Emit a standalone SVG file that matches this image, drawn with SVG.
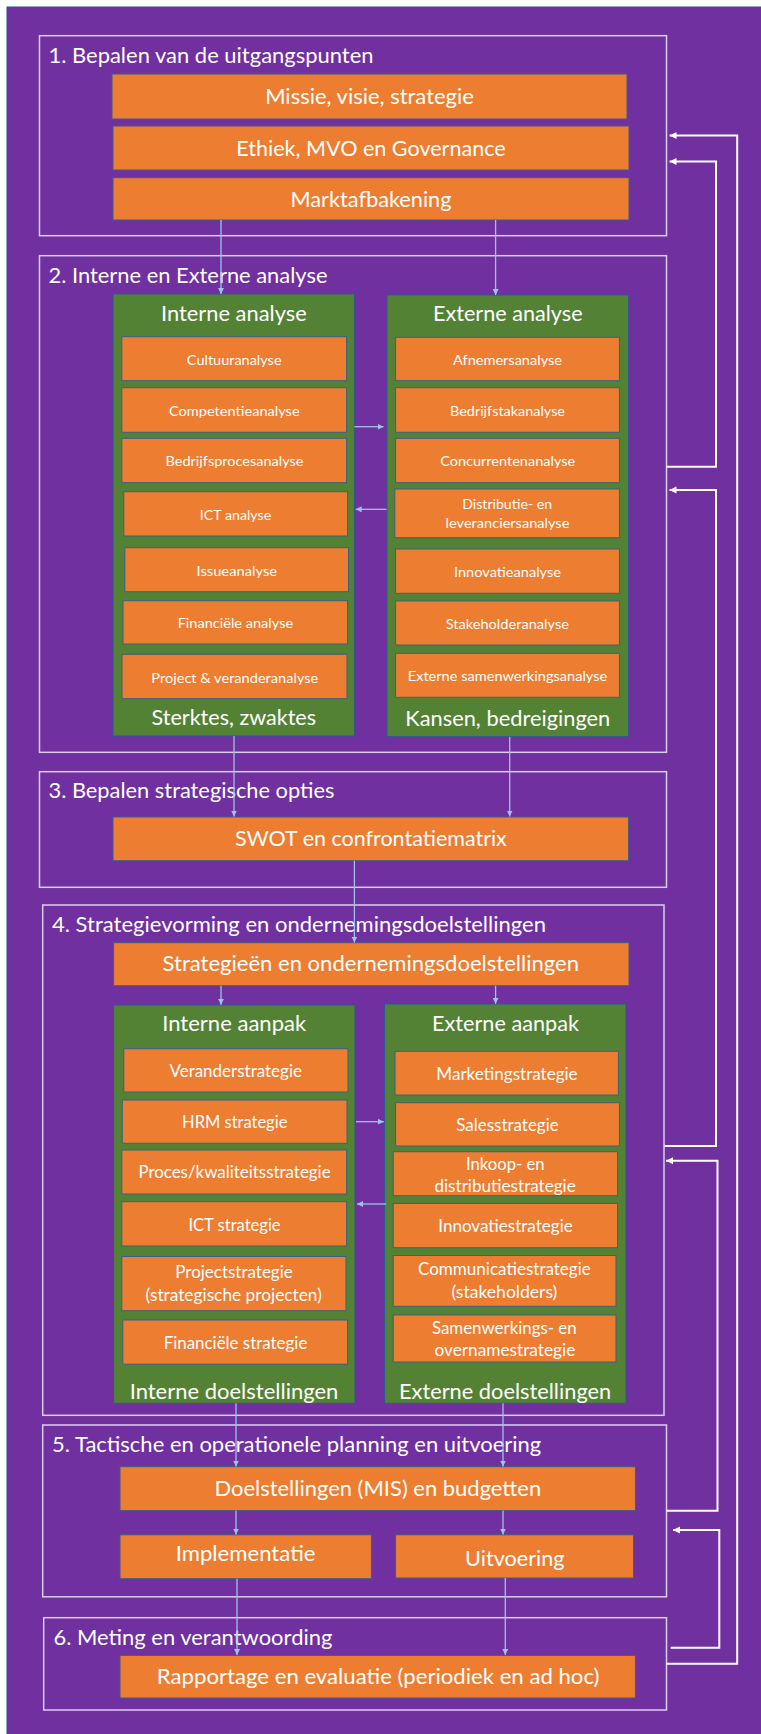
<svg xmlns="http://www.w3.org/2000/svg" width="761" height="1734" viewBox="0 0 761 1734">
<defs>
<style>
.sec{fill:none;stroke:#DACDEB;stroke-width:1.5}
.o{fill:#ED7D31;stroke:#3B5F86;stroke-width:1}
.g{fill:#548235;stroke:#2F5597;stroke-width:1}
text{font-family:Lato,"Open Sans","Liberation Sans",sans-serif;fill:#FFFFFF}
.b{font-size:20.5px;text-anchor:middle}
.h{font-size:20.5px;text-anchor:start}
.s{font-size:14px;text-anchor:middle}
.m{font-size:16.3px;text-anchor:middle}
.c{fill:none;stroke:#9DC3E6;stroke-width:1.3;marker-end:url(#ac)}
.f{fill:none;stroke:#FFFFFF;stroke-width:2;marker-end:url(#af)}
</style>
<marker id="ac" markerUnits="userSpaceOnUse" markerWidth="7" markerHeight="6" refX="6" refY="3" orient="auto"><path d="M0,0 L6,3 L0,6 z" fill="#9DC3E6"/></marker>
<marker id="af" markerUnits="userSpaceOnUse" markerWidth="8" markerHeight="8" refX="7" refY="3.5" orient="auto"><path d="M0,0 L7,3.5 L0,7 z" fill="#FFFFFF"/></marker>
</defs>
<rect x="7" y="7" width="760" height="1740" fill="#7030A0" stroke="#2F528F" stroke-width="1"/>

<g id="sec1"><rect class="sec" x="39.5" y="35.7" width="627" height="200"/><text class="h" x="48.5" y="62.7" textLength="325" lengthAdjust="spacingAndGlyphs">1. Bepalen van de uitgangspunten</text></g>
<g id="missie"><rect class="o" x="112" y="74" width="515" height="45"/><text class="b" x="369.5" y="104" textLength="208.7" lengthAdjust="spacingAndGlyphs">Missie, visie, strategie</text></g>
<g id="ethiek"><rect class="o" x="113" y="126" width="516" height="44"/><text class="b" x="371" y="155.7" textLength="269.4" lengthAdjust="spacingAndGlyphs">Ethiek, MVO en Governance</text></g>
<g id="markt"><rect class="o" x="113" y="177.7" width="516" height="42.3"/><text class="b" x="371" y="206.7" textLength="161" lengthAdjust="spacingAndGlyphs">Marktafbakening</text></g>

<g id="sec2"><rect class="sec" x="39.5" y="255.7" width="627" height="496.6"/><text class="h" x="48.5" y="282.7" textLength="279" lengthAdjust="spacingAndGlyphs">2. Interne en Externe analyse</text></g>
<g id="interne-analyse"><rect class="g" x="113" y="294" width="241.4" height="442"/><text class="b" x="233.9" y="320.7" textLength="145.6" lengthAdjust="spacingAndGlyphs">Interne analyse</text><text class="b" x="233.8" y="725" textLength="164.6" lengthAdjust="spacingAndGlyphs">Sterktes, zwaktes</text></g>
<g id="externe-analyse"><rect class="g" x="387" y="295" width="241.6" height="441.7"/><text class="b" x="507.8" y="321.3" textLength="149.5" lengthAdjust="spacingAndGlyphs">Externe analyse</text><text class="b" x="507.8" y="725.7" textLength="205" lengthAdjust="spacingAndGlyphs">Kansen, bedreigingen</text></g>

<g id="cultuur"><rect class="o" x="121.8" y="336.7" width="224.8" height="44"/><text class="s" x="234.2" y="365" textLength="94.7" lengthAdjust="spacingAndGlyphs">Cultuuranalyse</text></g>
<g id="competentie"><rect class="o" x="121.8" y="387.7" width="224.8" height="44.6"/><text class="s" x="234.3" y="416" textLength="130.6" lengthAdjust="spacingAndGlyphs">Competentieanalyse</text></g>
<g id="bedrijfsproces"><rect class="o" x="121.8" y="438.3" width="224.8" height="44.4"/><text class="s" x="234.5" y="466.3" textLength="137.9" lengthAdjust="spacingAndGlyphs">Bedrijfsprocesanalyse</text></g>
<g id="ict-analyse"><rect class="o" x="123.8" y="491.7" width="223.8" height="44.3"/><text class="s" x="235.5" y="519.5" textLength="71.4" lengthAdjust="spacingAndGlyphs">ICT analyse</text></g>
<g id="issue"><rect class="o" x="124.8" y="547.7" width="223.7" height="44"/><text class="s" x="236.8" y="575.7" textLength="80.6" lengthAdjust="spacingAndGlyphs">Issueanalyse</text></g>
<g id="financiele-analyse"><rect class="o" x="123" y="600.7" width="224.6" height="43.3"/><text class="s" x="235.4" y="628.3" textLength="115.5" lengthAdjust="spacingAndGlyphs">Financiële analyse</text></g>
<g id="project-analyse"><rect class="o" x="122" y="654.3" width="225" height="44.4"/><text class="s" x="234.8" y="682.5" textLength="167" lengthAdjust="spacingAndGlyphs">Project &amp; veranderanalyse</text></g>

<g id="afnemers"><rect class="o" x="395.6" y="337.3" width="223.8" height="43.4"/><text class="s" x="507.5" y="365" textLength="109" lengthAdjust="spacingAndGlyphs">Afnemersanalyse</text></g>
<g id="bedrijfstak"><rect class="o" x="395.6" y="387.7" width="223.8" height="44.6"/><text class="s" x="507.5" y="416" textLength="115" lengthAdjust="spacingAndGlyphs">Bedrijfstakanalyse</text></g>
<g id="concurrenten"><rect class="o" x="395.6" y="438.3" width="223.8" height="44.4"/><text class="s" x="507.7" y="466.3" textLength="135" lengthAdjust="spacingAndGlyphs">Concurrentenanalyse</text></g>
<g id="distributie"><rect class="o" x="394.8" y="489" width="224.6" height="48.7"/><text class="s" x="507.2" y="509.3" textLength="90" lengthAdjust="spacingAndGlyphs">Distributie- en</text><text class="s" x="507.5" y="528.3" textLength="123.8" lengthAdjust="spacingAndGlyphs">leveranciersanalyse</text></g>
<g id="innovatie-analyse"><rect class="o" x="395.6" y="549" width="223.8" height="44.3"/><text class="s" x="507.5" y="577" textLength="107" lengthAdjust="spacingAndGlyphs">Innovatieanalyse</text></g>
<g id="stakeholder"><rect class="o" x="395.6" y="601" width="223.8" height="44"/><text class="s" x="507.3" y="628.7" textLength="123.3" lengthAdjust="spacingAndGlyphs">Stakeholderanalyse</text></g>
<g id="samenwerking-analyse"><rect class="o" x="395.6" y="653.3" width="223.8" height="44"/><text class="s" x="507.5" y="680.8" textLength="199.5" lengthAdjust="spacingAndGlyphs">Externe samenwerkingsanalyse</text></g>

<g id="sec3"><rect class="sec" x="39.5" y="771.7" width="627" height="115.6"/><text class="h" x="48.5" y="798.3" textLength="286" lengthAdjust="spacingAndGlyphs">3. Bepalen strategische opties</text></g>
<g id="swot"><rect class="o" x="113" y="817" width="515.6" height="43.7"/><text class="b" x="370.9" y="846" textLength="271.8" lengthAdjust="spacingAndGlyphs">SWOT en confrontatiematrix</text></g>

<g id="sec4"><rect class="sec" x="42.7" y="905" width="621.3" height="510.3"/><text class="h" x="52" y="931.7" textLength="494" lengthAdjust="spacingAndGlyphs">4. Strategievorming en ondernemingsdoelstellingen</text></g>
<g id="strategieen"><rect class="o" x="113.6" y="942.7" width="515.4" height="43"/><text class="b" x="370.8" y="971" textLength="416.5" lengthAdjust="spacingAndGlyphs">Strategieën en ondernemingsdoelstellingen</text></g>
<g id="interne-aanpak"><rect class="g" x="113.6" y="1005" width="241.4" height="398.3"/><text class="b" x="234.2" y="1031" textLength="144" lengthAdjust="spacingAndGlyphs">Interne aanpak</text><text class="b" x="234" y="1398.6" textLength="208.7" lengthAdjust="spacingAndGlyphs">Interne doelstellingen</text></g>
<g id="externe-aanpak"><rect class="g" x="384.5" y="1004" width="241.5" height="399.3"/><text class="b" x="505.5" y="1030.7" textLength="147" lengthAdjust="spacingAndGlyphs">Externe aanpak</text><text class="b" x="505.1" y="1398.6" textLength="212.2" lengthAdjust="spacingAndGlyphs">Externe doelstellingen</text></g>

<g id="verander"><rect class="o" x="123.8" y="1048.7" width="224.2" height="43.3"/><text class="m" x="235.7" y="1077.3" textLength="132.5" lengthAdjust="spacingAndGlyphs">Veranderstrategie</text></g>
<g id="hrm"><rect class="o" x="122.3" y="1100" width="224.7" height="43.3"/><text class="m" x="234.7" y="1128.3" textLength="105.3" lengthAdjust="spacingAndGlyphs">HRM strategie</text></g>
<g id="proces"><rect class="o" x="121.8" y="1150" width="224.8" height="44"/><text class="m" x="234.5" y="1178.3" textLength="192.2" lengthAdjust="spacingAndGlyphs">Proces/kwaliteitsstrategie</text></g>
<g id="ict-strategie"><rect class="o" x="121.8" y="1201.7" width="224.8" height="44.3"/><text class="m" x="234.5" y="1230.7" textLength="92.2" lengthAdjust="spacingAndGlyphs">ICT strategie</text></g>
<g id="projectstrategie"><rect class="o" x="121.8" y="1256.5" width="224.2" height="54.2"/><text class="m" x="234" y="1278.3" textLength="117.5" lengthAdjust="spacingAndGlyphs">Projectstrategie</text><text class="m" x="233.7" y="1300.5" textLength="176.2" lengthAdjust="spacingAndGlyphs">(strategische projecten)</text></g>
<g id="financiele-strategie"><rect class="o" x="122.8" y="1320" width="224.8" height="44.2"/><text class="m" x="235.5" y="1348.8" textLength="143.7" lengthAdjust="spacingAndGlyphs">Financiële strategie</text></g>

<g id="marketing"><rect class="o" x="395" y="1051.3" width="223.4" height="43.7"/><text class="m" x="507" y="1080" textLength="141.3" lengthAdjust="spacingAndGlyphs">Marketingstrategie</text></g>
<g id="sales"><rect class="o" x="395.6" y="1102.7" width="223.8" height="43.3"/><text class="m" x="507.5" y="1130.7" textLength="102.4" lengthAdjust="spacingAndGlyphs">Salesstrategie</text></g>
<g id="inkoop"><rect class="o" x="393.2" y="1151.7" width="224.3" height="44"/><text class="m" x="505.3" y="1170" textLength="78.6" lengthAdjust="spacingAndGlyphs">Inkoop- en</text><text class="m" x="505.1" y="1191.7" textLength="141.3" lengthAdjust="spacingAndGlyphs">distributiestrategie</text></g>
<g id="innovatie-strategie"><rect class="o" x="393.2" y="1203.4" width="224.3" height="44.3"/><text class="m" x="505.5" y="1232.4" textLength="134.5" lengthAdjust="spacingAndGlyphs">Innovatiestrategie</text></g>
<g id="communicatie"><rect class="o" x="393.2" y="1255.5" width="222.8" height="50.8"/><text class="m" x="504.4" y="1275" textLength="172.8" lengthAdjust="spacingAndGlyphs">Communicatiestrategie</text><text class="m" x="504.4" y="1297.7" textLength="105.8" lengthAdjust="spacingAndGlyphs">(stakeholders)</text></g>
<g id="samenwerking-strategie"><rect class="o" x="393.2" y="1315" width="222.8" height="47"/><text class="m" x="504.3" y="1333.5" textLength="144.7" lengthAdjust="spacingAndGlyphs">Samenwerkings- en</text><text class="m" x="504.9" y="1356" textLength="140.8" lengthAdjust="spacingAndGlyphs">overnamestrategie</text></g>

<g id="sec5"><rect class="sec" x="42.7" y="1425" width="623.8" height="171.8"/><text class="h" x="52" y="1452" textLength="489.3" lengthAdjust="spacingAndGlyphs">5. Tactische en operationele planning en uitvoering</text></g>
<g id="doelstellingen"><rect class="o" x="120" y="1466.7" width="515.4" height="43.9"/><text class="b" x="377.8" y="1496.3" textLength="326.7" lengthAdjust="spacingAndGlyphs">Doelstellingen (MIS) en budgetten</text></g>
<g id="implementatie"><rect class="o" x="120" y="1534.8" width="251.4" height="43.9"/><text class="b" x="245.6" y="1561" textLength="139.8" lengthAdjust="spacingAndGlyphs">Implementatie</text></g>
<g id="uitvoering"><rect class="o" x="395.6" y="1534.8" width="237.9" height="43.2"/><text class="b" x="514.8" y="1566" textLength="99.5" lengthAdjust="spacingAndGlyphs">Uitvoering</text></g>

<g id="sec6"><rect class="sec" x="43.7" y="1617.7" width="622.8" height="92.3"/><text class="h" x="53.4" y="1644.5" textLength="279" lengthAdjust="spacingAndGlyphs">6. Meting en verantwoording</text></g>
<g id="rapportage"><rect class="o" x="120" y="1655.4" width="515.4" height="42.6"/><text class="b" x="378.2" y="1683.6" textLength="442.7" lengthAdjust="spacingAndGlyphs">Rapportage en evaluatie (periodiek en ad hoc)</text></g>

<g id="connectors">
<path class="c" d="M221,220 V294"/>
<path class="c" d="M495.6,220 V295"/>
<path class="c" d="M354.4,426.7 H383.5"/>
<path class="c" d="M386.5,509.3 H355.7"/>
<path class="c" d="M234,736 V816.5"/>
<path class="c" d="M509.7,736.7 V816.5"/>
<path class="c" d="M354.4,860.7 V942.5"/>
<path class="c" d="M221,985.7 V1004.8"/>
<path class="c" d="M495.6,985.7 V1003.8"/>
<path class="c" d="M356,1121.7 H383.8"/>
<path class="c" d="M386,1204 H357"/>
<path class="c" d="M236,1403.3 V1466.5"/>
<path class="c" d="M503,1403.3 V1466.5"/>
<path class="c" d="M236,1510.6 V1534.5"/>
<path class="c" d="M503,1510.6 V1534.5"/>
<path class="c" d="M237,1578.7 V1655"/>
<path class="c" d="M505.3,1578 V1655"/>
<path class="f" d="M666.5,1663.7 H737.2 V135.5 H669.5"/>
<path class="f" d="M666.5,466.7 H716 V161.5 H669.5"/>
<path class="f" d="M664.5,1146 H716 V490 H669.5"/>
<path class="f" d="M666.5,1510.7 H717.5 V1160.7 H666"/>
<path class="f" d="M670.7,1647.7 H719.3 V1530 H673"/>
</g>
</svg>
